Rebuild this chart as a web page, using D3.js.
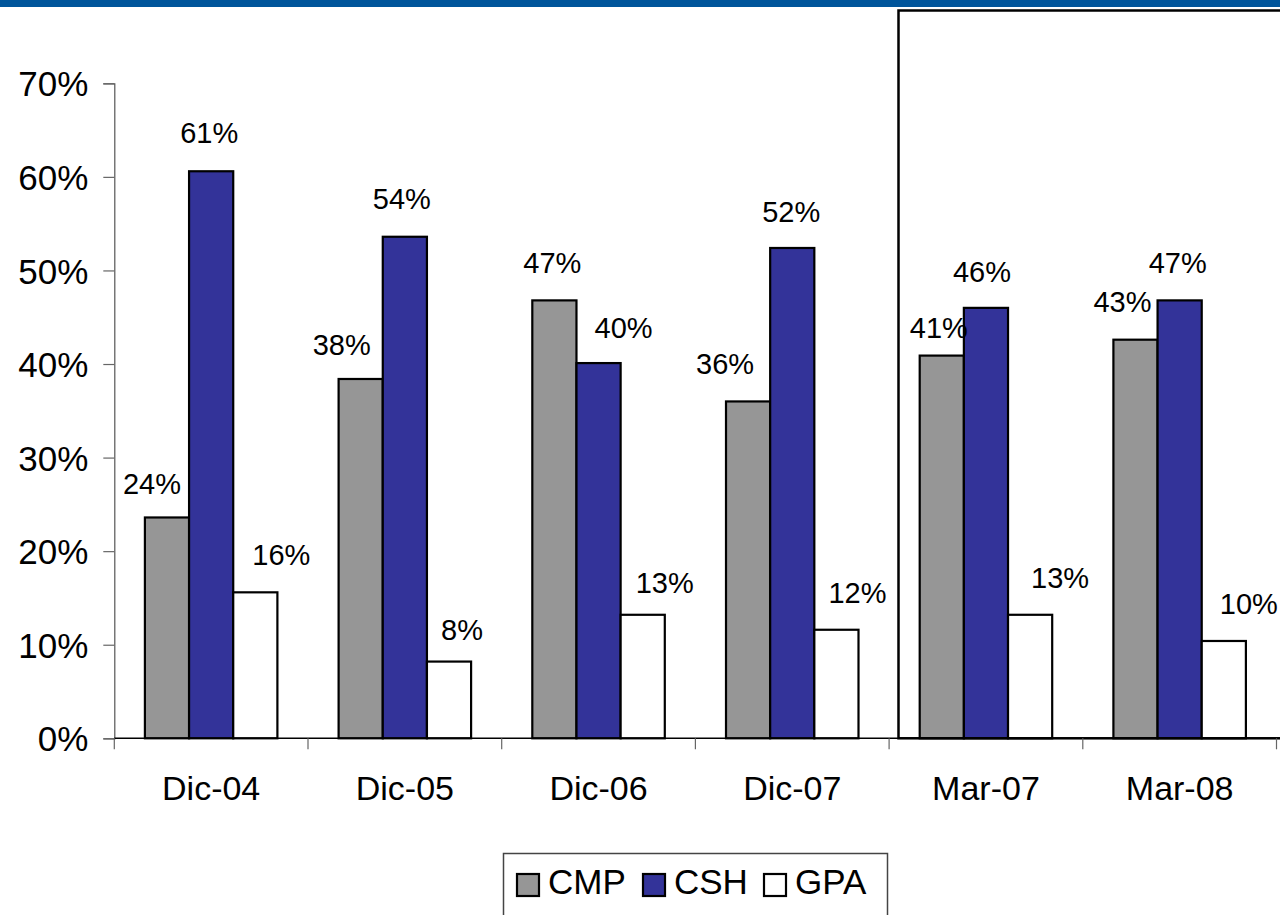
<!DOCTYPE html>
<html>
<head>
<meta charset="utf-8">
<script src="https://cdn.jsdelivr.net/npm/d3@7"></script>
<style>
  html, body { margin: 0; padding: 0; background: #fff; }
  svg { display: block; font-family: Arial, "Liberation Sans", sans-serif; }
</style>
</head>
<body>
<svg id="chart" width="1280" height="915"></svg>
<script>
// Periods on the x axis
const categories = ["Dic-04", "Dic-05", "Dic-06", "Dic-07", "Mar-07", "Mar-08"];
// Series shares, in percent
const seriesNames = ["CMP", "CSH", "GPA"];
const cmpValues = [23.6, 38.4, 46.8, 36.0, 40.9, 42.6];
const cshValues = [60.6, 53.6, 40.1, 52.4, 46.0, 46.8];
const gpaValues = [15.6, 8.2, 13.2, 11.6, 13.2, 10.4];
// Y axis ticks, in percent
const yTicks = [0, 10, 20, 30, 40, 50, 60, 70];

// Hand-placed value label offsets (px) relative to each bar's top centre
const labelShiftX = {
  CMP: [-15, -19, -2, -23, -3, -13],
  CSH: [-2, -3, 25, -1, -4, -2],
  GPA: [26, 13, 22, 21, 30, 25]
};
const labelShiftY = {
  CMP: [-23, -24, -27, -27, -18, -28],
  CSH: [-28, -28, -25, -26, -26, -27],
  GPA: [-27, -22, -22, -27, -27, -27]
};

const colors = { CMP: "#969696", CSH: "#333399", GPA: "#ffffff" };
const seriesValues = { CMP: cmpValues, CSH: cshValues, GPA: gpaValues };

const svg = d3.select("#chart");

// Blue band across the top of the page
svg.append("rect").attr("x", 0).attr("y", 0).attr("width", 1280).attr("height", 7)
  .attr("fill", "#00559b");

const plotLeft = 114.3, plotRight = 1276.5, plotTop = 83.3, plotBottom = 738.3;

const x0 = d3.scaleBand().domain(categories).range([plotLeft, plotRight]).padding(0);
const barW = x0.bandwidth() * 0.228;
const groupOffset = (x0.bandwidth() - barW * 3) / 2;
const x1 = d3.scaleBand().domain(seriesNames).range([0, barW * 3]).padding(0);
const y = d3.scaleLinear().domain([0, 70]).range([plotBottom, plotTop]);

// Y axis line and ticks
const yAxis = svg.append("g").attr("transform", `translate(${plotLeft},0)`)
  .call(d3.axisLeft(y).tickValues(yTicks).tickSize(11).tickFormat(d => d + "%"));
yAxis.select(".domain").attr("stroke", "#555").attr("stroke-width", 1.2);
yAxis.selectAll(".tick line").attr("stroke", "#666").attr("stroke-width", 1.2);
yAxis.selectAll(".tick text")
  .attr("x", -26).attr("dy", "0.36em")
  .attr("font-size", 35).attr("fill", "#000")
  .attr("font-family", "Arial, 'Liberation Sans', sans-serif");

// Bars
const groups = svg.append("g").selectAll("g")
  .data(categories).join("g")
  .attr("transform", c => `translate(${x0(c) + groupOffset},0)`);

groups.each(function (c, i) {
  const g = d3.select(this);
  seriesNames.forEach(s => {
    const v = seriesValues[s][i];
    g.append("rect")
      .attr("x", x1(s))
      .attr("y", y(v))
      .attr("width", x1.bandwidth())
      .attr("height", y(0) - y(v))
      .attr("fill", colors[s])
      .attr("stroke", "#000")
      .attr("stroke-width", 2.2);
  });
});

// Highlight frame around the March comparison
svg.append("rect")
  .attr("x", 898.5).attr("y", 10.5)
  .attr("width", 420).attr("height", plotBottom - 10.5)
  .attr("fill", "none").attr("stroke", "#000").attr("stroke-width", 2.5);

// X axis line and category ticks
const xAxis = svg.append("g").attr("transform", `translate(0,${plotBottom})`)
  .call(d3.axisBottom(x0).tickSize(0).tickFormat(d => d));
xAxis.select(".domain").remove();
svg.append("line")
  .attr("x1", plotLeft).attr("x2", 1280)
  .attr("y1", plotBottom).attr("y2", plotBottom)
  .attr("stroke", "#000").attr("stroke-width", 1.6);
const edges = categories.map(c => x0(c)).concat([plotRight]);
svg.append("g").selectAll("line").data(edges).join("line")
  .attr("x1", d => d).attr("x2", d => d)
  .attr("y1", plotBottom).attr("y2", plotBottom + 11)
  .attr("stroke", "#666").attr("stroke-width", 1.2);
xAxis.selectAll(".tick text")
  .attr("y", 62).attr("dy", 0)
  .attr("font-size", 34).attr("fill", "#000")
  .attr("font-family", "Arial, 'Liberation Sans', sans-serif");

// Value labels
categories.forEach((c, i) => {
  seriesNames.forEach(s => {
    const v = seriesValues[s][i];
    const cx = x0(c) + groupOffset + x1(s) + x1.bandwidth() / 2;
    svg.append("text")
      .attr("x", cx + labelShiftX[s][i])
      .attr("y", y(v) + labelShiftY[s][i])
      .attr("text-anchor", "middle")
      .attr("font-size", 29)
      .attr("fill", "#000")
      .text(Math.round(v) + "%");
  });
});

// Legend
const legend = svg.append("g");
legend.append("rect")
  .attr("x", 503.5).attr("y", 853.5).attr("width", 384).attr("height", 80)
  .attr("fill", "#fff").attr("stroke", "#444").attr("stroke-width", 1.5);
const legendX = [517, 643, 764];
seriesNames.forEach((s, i) => {
  legend.append("rect")
    .attr("x", legendX[i]).attr("y", 874).attr("width", 22).attr("height", 22)
    .attr("fill", colors[s]).attr("stroke", "#000").attr("stroke-width", 2.2);
  legend.append("text")
    .attr("x", legendX[i] + 31).attr("y", 894)
    .attr("font-size", 35).attr("fill", "#000")
    .text(s);
});
</script>
</body>
</html>
